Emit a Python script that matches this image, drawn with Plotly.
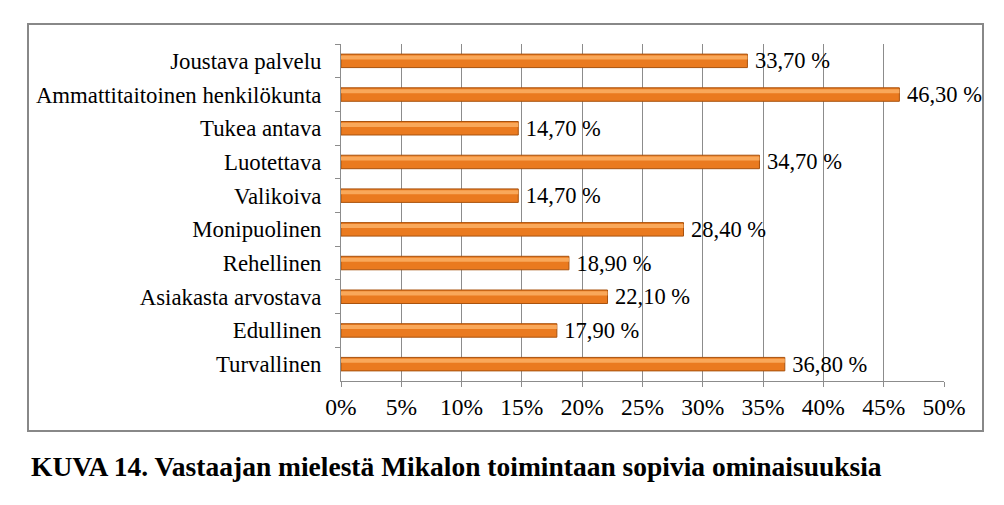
import plotly.graph_objects as go

categories = ["Joustava palvelu", "Ammattitaitoinen henkilökunta", "Tukea antava",
              "Luotettava", "Valikoiva", "Monipuolinen", "Rehellinen",
              "Asiakasta arvostava", "Edullinen", "Turvallinen"]
values = [33.7, 46.3, 14.7, 34.7, 14.7, 28.4, 18.9, 22.1, 17.9, 36.8]
x_ticks = [0, 5, 10, 15, 20, 25, 30, 35, 40, 45, 50]
x_tick_text = ["0%", "5%", "10%", "15%", "20%", "25%", "30%", "35%", "40%", "45%", "50%"]
caption = "KUVA 14. Vastaajan mielestä Mikalon toimintaan sopivia ominaisuuksia"

labels = ["\u2009" + f"{v:.2f}".replace(".", ",") + " %" for v in values]
FONT = "'Liberation Serif', 'DejaVu Serif', serif"

fig = go.Figure()
fig.add_trace(go.Bar(
    y=categories, x=values, orientation="h", width=0.4,
    marker=dict(color="#EA7A1F", line=dict(color="#A8520E", width=1)),
    text=labels, textposition="outside", cliponaxis=False, constraintext="none",
    textfont=dict(family=FONT, size=22.5, color="#000000"),
    hoverinfo="skip", showlegend=False,
))
# highlight strip for a cylinder-like look
fig.add_trace(go.Bar(
    y=categories, x=values, orientation="h", width=0.12, offset=-0.16,
    marker=dict(color="#F9A85A", line=dict(width=0)),
    hoverinfo="skip", showlegend=False,
))

# frame around chart
L, R, T, B = 341, 944, 44, 381
def px(x): return (x - L) / (R - L)
def py(y): return (B - y) / (B - T)
fig.add_shape(type="rect", xref="paper", yref="paper",
              x0=px(28), x1=px(983), y0=py(431), y1=py(24),
              line=dict(color="#888888", width=2), layer="below")

fig.add_annotation(text=f"<b>{caption}</b>", xref="paper", yref="paper",
                   x=px(29), y=py(466), xanchor="left", yanchor="middle",
                   showarrow=False, font=dict(family=FONT, size=27.5, color="#000000"))

fig.update_layout(
    width=1004, height=505, margin=dict(l=L, r=1004 - R, t=T, b=505 - B),
    paper_bgcolor="white", plot_bgcolor="white", barmode="overlay",
    font=dict(family=FONT, size=22.5, color="#000000"),
    xaxis=dict(range=[0, 50], tickmode="array", tickvals=x_ticks, ticktext=x_tick_text,
               showgrid=True, gridcolor="#8C8C8C", gridwidth=1,
               showline=True, linecolor="#8C8C8C", linewidth=1,
               ticks="outside", ticklen=5, tickcolor="#8C8C8C",
               zeroline=False, tickfont=dict(family=FONT, size=23.5)),
    yaxis=dict(autorange="reversed", type="category",
               showline=True, linecolor="#8C8C8C", linewidth=1,
               ticks="outside", ticklen=5, tickcolor="#8C8C8C",
               tickson="boundaries", showgrid=False, ticklabelstandoff=14,
               tickfont=dict(family=FONT, size=22.8)),
)

fig.write_html("out.html")
